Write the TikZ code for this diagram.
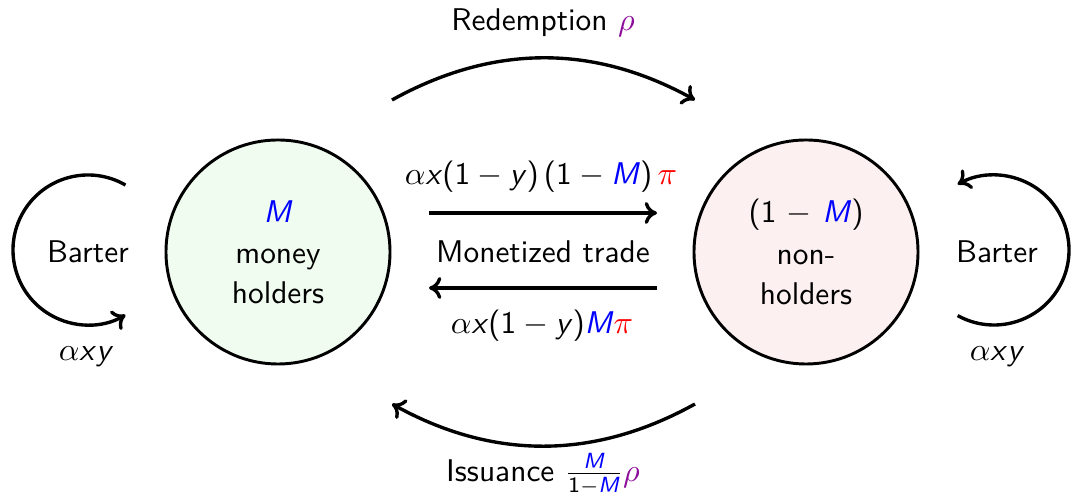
\documentclass[tikz,border=0pt]{standalone}
\usepackage{amsmath}
\usepackage{fontspec}
\usetikzlibrary{arrows.meta}
\definecolor{rhocol}{rgb}{0.55,0.05,0.6}
\definecolor{mfill}{rgb}{0.94,0.99,0.94}
\definecolor{nfill}{rgb}{0.99,0.94,0.94}
\newcommand{\tx}[1]{\text{#1}}
\newcommand{\vM}{\textcolor{blue}{\textsl{M}}}
\newcommand{\vx}{\textsl{x}}
\newcommand{\vy}{\textsl{y}}
\begin{document}
\begin{tikzpicture}[x=0.341pt,y=-0.341pt,
  font=\sffamily\fontsize{10.7}{12.8}\selectfont,
  agent/.style={circle,draw,line width=1pt,minimum size=76.4pt,inner sep=0pt,align=center},
  flow/.style={line width=1.15pt,-{To[length=4.2pt,width=7.5pt]}},
  lbl/.style={inner sep=1pt}]
\useasboundingbox (0,0) rectangle (1071,499);
% agents
\node[agent,fill=mfill] (mh) at (278,252) {\vM\\[1.3pt]money\\[0.8pt]holders};
\node[agent,fill=nfill] (nh) at (806,252) {\tx{(1} $-$ \tx{\vM)}\\[1.3pt]non-\\[0.8pt]holders};
% coordinates
\coordinate (rs) at (392,100);
\coordinate (re) at (695,100);
\coordinate (is) at (695,404);
\coordinate (ie) at (392,404);
\coordinate (ts) at (429,213);
\coordinate (te) at (657,213);
\coordinate (bs) at (657,288);
\coordinate (be) at (429,288);
\coordinate (lc) at (88,250);
\coordinate (rc) at (994,250);
% redemption / issuance
\draw[flow] (rs) .. controls (493,44) and (594,44) .. (re);
\draw[flow] (is) .. controls (594,460) and (493,460) .. (ie);
\node[lbl] (red) at (543,23) {Redemption \textcolor{rhocol}{$\rho$}};
\node[lbl] (iss) at (543,474) {Issuance $\frac{\tx{\vM}}{\tx{1}-\tx{\vM}}\textcolor{rhocol}{\rho}$};
% monetized trade
\draw[flow] (ts) -- (te);
\draw[flow] (bs) -- (be);
\node[lbl] (top) at (541,177) {$\alpha\tx{\vx(1} - \tx{\vy)\,(1} - \tx{\vM)}\,\textcolor{red}{\pi}$};
\node[lbl] (mt) at (543,252) {Monetized trade};
\node[lbl] (bot) at (542,326) {$\alpha\tx{\vx(1} - \tx{\vy)\vM}\textcolor{red}{\pi}$};
% barter loops
\draw[flow] (lc) ++(-60:75) arc[start angle=-60,end angle=-300,radius=75];
\node[lbl] (lbar) at (88,252) {Barter};
\node[lbl] (lax) at (86,357) {$\alpha\tx{\vx\vy}$};
\draw[flow] (rc) ++(119:75) arc[start angle=119,end angle=-119,radius=75];
\node[lbl] (rbar) at (997,252) {Barter};
\node[lbl] (rax) at (997,357) {$\alpha\tx{\vx\vy}$};
\end{tikzpicture}
\end{document}
